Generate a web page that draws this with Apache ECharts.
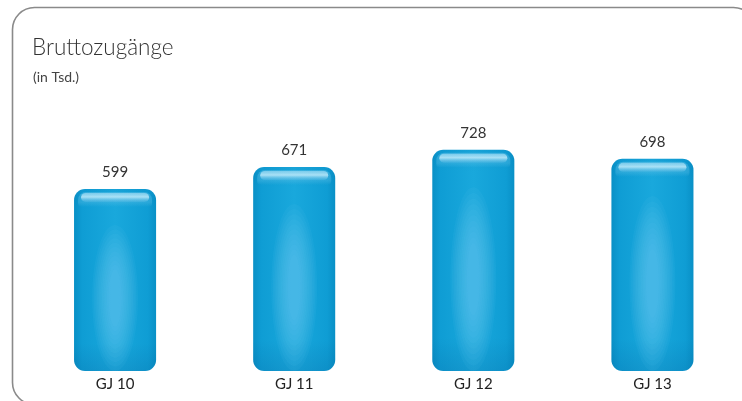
<!DOCTYPE html>
<html><head><meta charset="utf-8">
<script src="https://cdn.jsdelivr.net/npm/echarts@6/dist/echarts.min.js"></script>
<style>html,body{margin:0;padding:0;background:#fff}#c{width:742px;height:401px}</style>
</head><body><div id="c"></div>
<script>
const categories = ['GJ 10', 'GJ 11', 'GJ 12', 'GJ 13'];
const values = [599, 671, 728, 698];
const titleText = 'Bruttozugänge';
const subtitleText = '(in Tsd.)';

const chart = echarts.init(document.getElementById('c'));
const FONT = 'Lato, "Open Sans", sans-serif';

function renderItem(params, api) {
  const v = api.value(1);
  const top = api.coord([api.value(0), v]);
  const base = api.coord([api.value(0), 0]);
  const w = api.size([1, 0])[0] * 0.458;
  const x = top[0] - w / 2;
  const y = top[1];
  const h = base[1] - top[1];
  const lin = echarts.graphic.LinearGradient;
  const children = [
    { type: 'rect', shape: { x: x, y: y, width: w, height: h, r: 11 },
      style: { fill: new lin(0, 0, 1, 0, [
        { offset: 0, color: '#0990c6' },
        { offset: 0.1, color: '#0f9dd4' },
        { offset: 0.5, color: '#19a8dc' },
        { offset: 0.9, color: '#0f9dd4' },
        { offset: 1, color: '#0990c6' }
      ]) } },
    { type: 'rect', shape: { x: x, y: y, width: w, height: h, r: 11 },
      style: { fill: new lin(0, 0, 0, 1, [
        { offset: 0, color: 'rgba(0,70,130,0.05)' },
        { offset: 0.1, color: 'rgba(0,70,130,0)' },
        { offset: 0.85, color: 'rgba(0,70,130,0)' },
        { offset: 1, color: 'rgba(0,70,130,0.15)' }
      ]) } }
  ];
  const cy = y + 30 + (h - 30) * 0.52;
  const n = 11;
  for (let k = 0; k < n; k++) {
    const f = 1 - k / n;
    children.push({ type: 'ellipse',
      shape: { cx: top[0], cy: cy, rx: w * (0.06 + 0.22 * f), ry: (h - 30) * (0.16 + 0.32 * f) },
      style: { fill: 'rgba(110,200,238,0.075)' } });
  }
  children.push(
    { type: 'rect', shape: { x: x + 4, y: y + 3, width: w - 8, height: 15, r: [8, 8, 4, 4] },
      style: { fill: new lin(0, 0, 0, 1, [
        { offset: 0, color: 'rgba(120,205,238,0.35)' },
        { offset: 0.7, color: 'rgba(120,205,238,0.25)' },
        { offset: 1, color: 'rgba(120,205,238,0)' }
      ]) } },
    { type: 'rect', shape: { x: x + 7, y: y + 4, width: w - 14, height: 9, r: 4.5 },
      style: { fill: new lin(0, 0, 0, 1, [
        { offset: 0, color: 'rgba(190,232,250,0.5)' },
        { offset: 0.45, color: 'rgba(200,238,252,0.8)' },
        { offset: 1, color: 'rgba(100,190,230,0.3)' }
      ]) } },
    { type: 'text', style: { x: top[0], y: y - 17, text: String(v), fill: '#333',
      font: '15px ' + FONT, align: 'center', verticalAlign: 'middle' } }
  );
  return { type: 'group', children: children };
}

chart.setOption({
  animation: false,
  graphic: [
    { type: 'rect', shape: { x: 12.5, y: 7.5, width: 743, height: 397, r: 22 },
      style: { fill: 'none', stroke: '#8a8a8a', lineWidth: 1.6 } },
    { type: 'text', left: 32, top: 36, style: { text: titleText, fill: '#333', font: '300 22.5px ' + FONT } },
    { type: 'text', left: 33, top: 70, style: { text: subtitleText, fill: '#444', font: '14px ' + FONT } }
  ],
  grid: { left: 25.5, top: 127.8, width: 719.5, height: 243.2, containLabel: false },
  xAxis: {
    type: 'category', data: categories,
    axisLine: { show: false }, axisTick: { show: false },
    axisLabel: { color: '#222', fontSize: 15, fontFamily: FONT, margin: 6 }
  },
  yAxis: { type: 'value', min: 0, max: 800, show: false },
  series: [{
    type: 'custom', renderItem: renderItem,
    data: values.map((v, i) => [i, v])
  }]
});
</script></body></html>
